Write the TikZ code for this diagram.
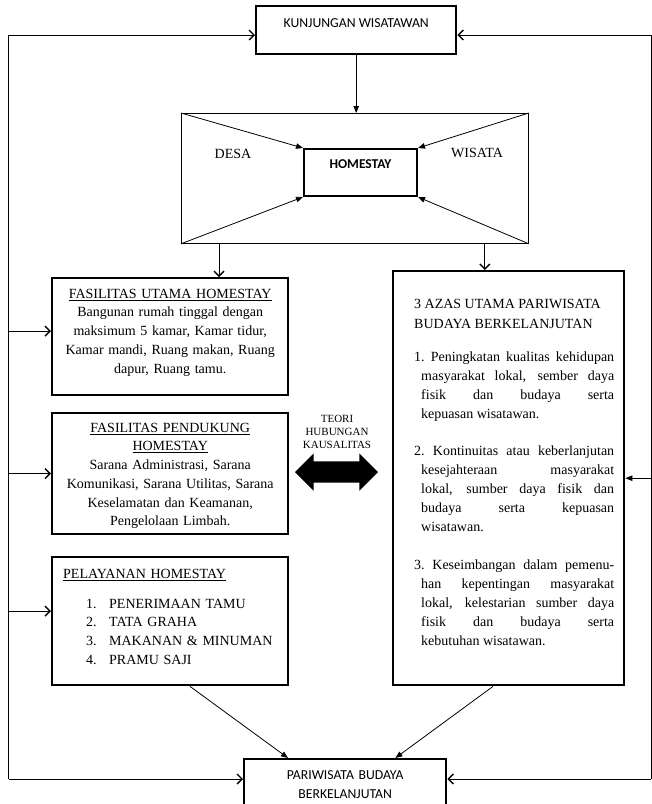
\documentclass[tikz,border=0pt]{standalone}
\usepackage{fontspec}
\setmainfont{Liberation Serif}
\newfontfamily\calibri{Carlito}
\usetikzlibrary{arrows.meta,shapes.arrows}

\begin{document}
\begin{tikzpicture}[
        % Координаты в пикселях, ось y вниз
        x=1pt, y=-1pt,
        % Стиль для рамок блоков
        main box/.style={
            draw,
            line width=2.4pt,
            anchor=north west,
            inner ysep=0pt
        },
        % Основной текст (Times)
        body/.style={
            font=\fontsize{14}{18.7}\selectfont
        },
        % Текст в верхнем и нижнем блоках (Calibri)
        sans/.style={
            font=\calibri\fontsize{13.7}{19}\selectfont
        },
        % Стили для стрелок
        link/.style={line width=0.8pt},
        open arrow/.style={
            link,
            -{Straight Barb[length=5pt,width=10pt,line width=1.4pt]}
        },
        solid arrow/.style={
            link,
            -{Triangle[length=7pt,width=5.5pt]}
        }
    ]

        \path[use as bounding box, clip] (0,0) rectangle (652,804);

        % Верхний блок
        \node[main box, sans, minimum width=200pt, text height=21.4pt, text depth=26.6pt] (kunjungan) at (255,5) {KUNJUNGAN WISATAWAN};

        % Рамка "desa wisata" с блоком homestay
        \node[draw, line width=0.8pt, anchor=north west, minimum width=347pt, minimum height=130pt, inner sep=0pt] (frame) at (181,113) {};
        \node[main box, line width=2pt, font=\calibri\bfseries\fontsize{13.5}{16}\selectfont,
            minimum width=113pt, text height=19.3pt, text depth=27.7pt] (homestay) at (303,148) {HOMESTAY};
        \node[body] (desa) at (233,154) {DESA};
        \node[body] (wisata) at (477,153) {WISATA};
        \foreach \c in {north west, south west, north east, south east}
            \draw[solid arrow] (frame.\c) -- (homestay.\c);

        % Левые блоки
        \node[main box, body, text width=220pt, inner xsep=8pt, align=center, text height=20pt, text depth=97pt] (utama) at (51,277) {%
            \underline{FASILITAS UTAMA HOMESTAY}\\
            Bangunan rumah tinggal dengan\\
            maksimum 5 kamar, Kamar tidur,\\
            Kamar mandi, Ruang makan, Ruang\\
            dapur, Ruang tamu.};
        \node[main box, body, text width=220pt, inner xsep=8pt, align=center, text height=19pt, text depth=102pt] (pendukung) at (51,412) {%
            \underline{FASILITAS PENDUKUNG}\\
            \underline{HOMESTAY}\\
            Sarana Administrasi, Sarana\\
            Komunikasi, Sarana Utilitas, Sarana\\
            Keselamatan dan Keamanan,\\
            Pengelolaan Limbah.};
        \node[main box, body, text width=214pt, inner xsep=11pt, align=left, text height=21pt, text depth=107pt] (pelayanan) at (51,556) {%
            \underline{PELAYANAN HOMESTAY}\\[11.3pt]
            \hspace*{23pt}\makebox[23pt][l]{1.}PENERIMAAN TAMU\\
            \hspace*{23pt}\makebox[23pt][l]{2.}TATA GRAHA\\
            \hspace*{23pt}\makebox[23pt][l]{3.}MAKANAN \& MINUMAN\\
            \hspace*{23pt}\makebox[23pt][l]{4.}PRAMU SAJI};

        % Правый блок
        \node[main box, body, text width=211pt, inner xsep=10pt, align=justify, text height=37pt, text depth=377pt] (azas) at (392,270) {%
            \leftskip=11pt \hyphenpenalty=10000 \tolerance=10000 \hbadness=10000
            \baselineskip=20pt
            3 AZAS UTAMA PARIWISATA\newline BUDAYA BERKELANJUTAN\par
            \baselineskip=19pt \vspace{14pt}
            \hangindent=7pt \hangafter=1
            1.\ Peningkatan kualitas kehidupan\linebreak masyarakat lokal, sember daya\linebreak
            fisik dan budaya serta\linebreak kepuasan wisatawan.\par
            \vspace{18.5pt}
            \hangindent=7pt \hangafter=1
            2.\ Kontinuitas atau keberlanjutan\linebreak kesejahteraan masyarakat\linebreak
            lokal, sumber daya fisik dan\linebreak budaya serta kepuasan\linebreak wisatawan.\par
            \vspace{18.5pt}
            \hangindent=7pt \hangafter=1
            3.\ Keseimbangan dalam pemenu-\linebreak han kepentingan masyarakat\linebreak
            lokal, kelestarian sumber daya\linebreak fisik dan budaya serta\linebreak
            kebutuhan wisatawan.\par};

        % Двойная стрелка
        \node[double arrow, fill=black, draw=none, minimum height=83pt, inner xsep=0pt, inner ysep=10.5pt,
            double arrow head extend=8pt] (kausal) at (336.5,472) {};
        \node[font=\fontsize{11}{13}\selectfont, align=center, inner sep=0pt] (teori) at (337,432) {TEORI\\HUBUNGAN\\KAUSALITAS};

        % Нижний блок
        \node[main box, sans, text width=192pt, inner xsep=5pt, align=center, text height=20.4pt, text depth=29.6pt] (pariwisata) at (243,758) {PARIWISATA BUDAYA\\BERKELANJUTAN};

        % Стрелки сверху вниз
        \draw[solid arrow] (kunjungan.south) -- (kunjungan.south |- frame.north);
        \coordinate (kiri turun) at ([xshift=38pt]frame.south west);
        \coordinate (kanan turun) at ([xshift=-44pt]frame.south east);
        \draw[open arrow] (kiri turun) -- (kiri turun |- utama.north);
        \draw[open arrow] (kanan turun) -- (kanan turun |- azas.north);

        % Левая линия обратной связи
        \coordinate (lt) at (8.5,35);
        \coordinate (lb) at (8.5,779);
        \draw[link] (lt) -- (lb);
        \draw[open arrow] (lt) -- (lt -| kunjungan.west);
        \coordinate (in utama) at ([yshift=5.5pt]utama.west);
        \draw[open arrow] (lt |- in utama) -- (in utama);
        \draw[open arrow] (lt |- pendukung.west) -- (pendukung.west);
        \coordinate (in pelayanan) at ([yshift=10pt]pelayanan.west);
        \draw[open arrow] (lt |- in pelayanan) -- (in pelayanan);
        \draw[open arrow] (lb) -- (lb -| pariwisata.west);

        % Правая линия обратной связи
        \coordinate (rt) at (651,35);
        \coordinate (rb) at (651,779);
        \draw[link] (rt) -- (rb);
        \draw[open arrow] (rt) -- (rt -| kunjungan.east);
        \draw[solid arrow] (rt |- azas.east) -- (azas.east);
        \draw[open arrow] (rb) -- (rb -| pariwisata.east);

        % Наклонные стрелки к нижнему блоку
        \coordinate (dari pelayanan) at ([xshift=139pt]pelayanan.south west);
        \coordinate (ke kiri) at ([xshift=45pt]pariwisata.north west);
        \coordinate (dari azas) at ([xshift=101pt]azas.south west);
        \coordinate (ke kanan) at ([xshift=-52pt]pariwisata.north east);
        \draw[solid arrow] (dari pelayanan) -- (ke kiri);
        \draw[solid arrow] (dari azas) -- (ke kanan);

    \end{tikzpicture}
\end{document}
